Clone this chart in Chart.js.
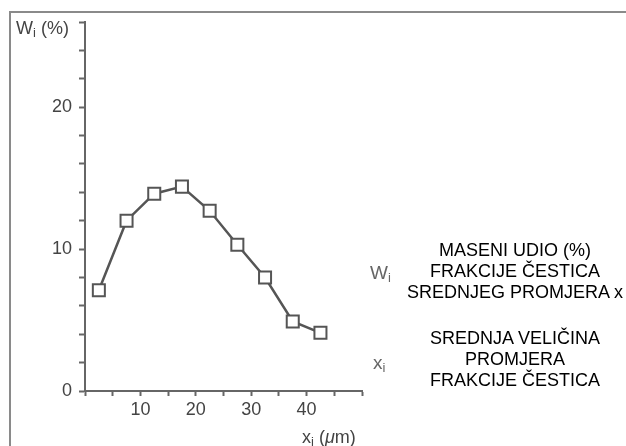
<!DOCTYPE html>
<html>
<head>
<meta charset="utf-8">
<script src="https://cdn.jsdelivr.net/npm/chart.js@4.4.1/dist/chart.umd.min.js"></script>
<style>
    html, body { margin: 0; padding: 0; background: #fff; }
    #wrap { position: relative; width: 626px; height: 446px; overflow: hidden; font-family: 'Liberation Sans', Arial, sans-serif; }
    #frame { position: absolute; left: 9px; top: 11px; right: 0; bottom: 0; border-left: 2px solid #8a8a8a; border-top: 2px solid #8a8a8a; }
    canvas { position: absolute; left: 0; top: 0; }
    .lbl { position: absolute; font-size: 18px; color: #444; white-space: nowrap; line-height: 1; }
    .lbl sub { font-size: 13px; vertical-align: -3px; }
    .note { position: absolute; left: 402px; width: 226px; text-align: center; font-size: 18px; line-height: 21px; color: #000; }
    .sym { position: absolute; font-size: 19px; color: #666; line-height: 1; }
    .sym sub { font-size: 13px; vertical-align: -3px; }
</style>
</head>
<body>
<div id="wrap">
    <div id="frame"></div>
    <canvas id="chart" width="626" height="446"></canvas>
    <div class="lbl" style="left:16px; top:19px;">W<sub>i</sub> (%)</div>
    <div class="lbl" style="left:302px; top:428px;">x<sub>i</sub> (<i>μ</i>m)</div>
    <div class="sym" style="left:370px; top:263px;">W<sub>i</sub></div>
    <div class="note" style="top:240px;">MASENI UDIO (%)<br>FRAKCIJE ČESTICA<br>SREDNJEG PROMJERA x</div>
    <div class="sym" style="left:373px; top:353px;">x<sub>i</sub></div>
    <div class="note" style="top:328px;">SREDNJA VELIČINA<br>PROMJERA<br>FRAKCIJE ČESTICA</div>
</div>
<script>
const sizes = [2.5, 7.5, 12.5, 17.5, 22.5, 27.5, 32.5, 37.5, 42.5];
const massShare = [7.1, 12.0, 13.9, 14.4, 12.7, 10.3, 8.0, 4.9, 4.1];
const xLabels = [10, 20, 30, 40];
const yLabels = [0, 10, 20];

const axisColor = '#666';
const tickFont = { family: "'Liberation Sans', Arial, sans-serif", size: 18 };

new Chart(document.getElementById('chart'), {
    type: 'line',
    data: {
        datasets: [{
            data: sizes.map((x, i) => ({ x, y: massShare[i] })),
            borderColor: '#555',
            borderWidth: 2.5,
            tension: 0,
            pointStyle: 'rect',
            pointRadius: 8.5,
            pointBorderWidth: 2,
            pointBackgroundColor: '#fff',
            pointBorderColor: '#555',
        }],
    },
    options: {
        responsive: false,
        animation: false,
        layout: { padding: { left: 0, right: 264, top: 22, bottom: 0 } },
        plugins: { legend: { display: false }, tooltip: { enabled: false } },
        scales: {
            x: {
                type: 'linear',
                min: 0,
                max: 50,
                afterFit: (scale) => { scale.height = 55; },
                border: { display: true, color: axisColor, width: 2 },
                grid: { drawOnChartArea: false, drawTicks: true, tickLength: 5, color: axisColor, tickWidth: 2 },
                ticks: {
                    stepSize: 5,
                    autoSkip: false,
                    maxRotation: 0,
                    padding: 3,
                    color: '#444',
                    font: tickFont,
                    callback: (v) => (xLabels.includes(v) ? String(v) : ''),
                },
            },
            y: {
                min: 0,
                max: 26,
                afterFit: (scale) => { scale.width = 85; },
                border: { display: true, color: axisColor, width: 2 },
                grid: { drawOnChartArea: false, drawTicks: true, tickLength: 6, color: axisColor, tickWidth: 2 },
                ticks: {
                    stepSize: 2,
                    autoSkip: false,
                    padding: 7,
                    color: '#444',
                    font: tickFont,
                    callback: (v) => (yLabels.includes(v) ? String(v) : ''),
                },
            },
        },
    },
});
</script>
</body>
</html>
